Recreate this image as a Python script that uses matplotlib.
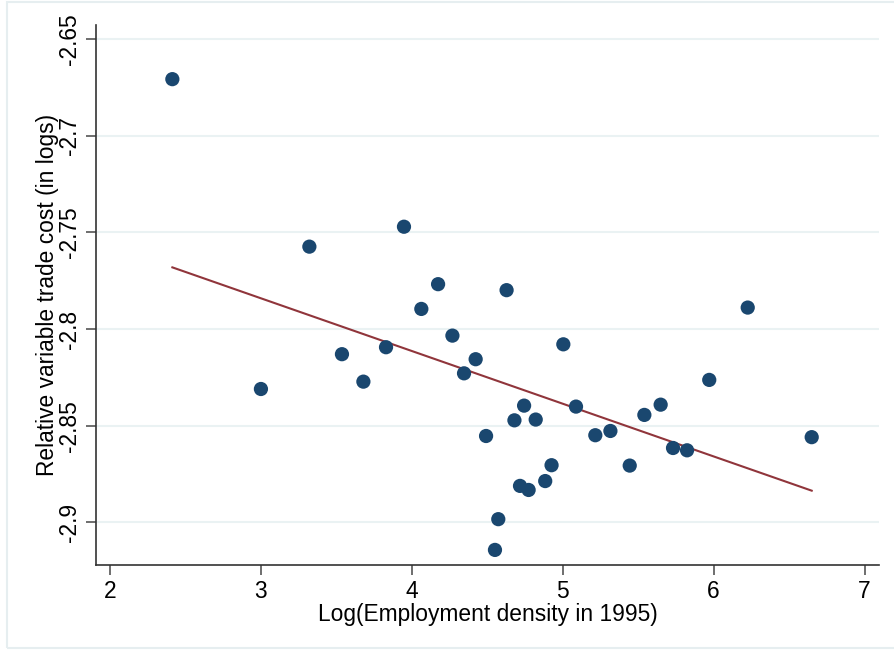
import numpy as np
import matplotlib
matplotlib.use("Agg")
import matplotlib.pyplot as plt
from matplotlib.patches import Rectangle

# Data
emp_density = [2.413, 3.000, 3.321, 3.537, 3.679, 3.829, 3.948, 4.063, 4.174,
               4.269, 4.346, 4.423, 4.492, 4.551, 4.573, 4.628, 4.680, 4.717,
               4.744, 4.774, 4.821, 4.884, 4.926, 5.004, 5.088, 5.216, 5.316,
               5.444, 5.541, 5.649, 5.731, 5.824, 5.971, 6.226, 6.650]
trade_cost = [-2.6708, -2.8310, -2.7574, -2.8130, -2.8272, -2.8094, -2.7471,
              -2.7896, -2.7768, -2.8034, -2.8229, -2.8156, -2.8553, -2.9142,
              -2.8983, -2.7799, -2.8472, -2.8811, -2.8396, -2.8832, -2.8468,
              -2.8786, -2.8704, -2.8079, -2.8401, -2.8549, -2.8527, -2.8706,
              -2.8444, -2.8391, -2.8615, -2.8627, -2.8263, -2.7889, -2.8559]
x_ticks = [2, 3, 4, 5, 6, 7]
y_ticks = [-2.9, -2.85, -2.8, -2.75, -2.7, -2.65]
y_tick_labels = ["-2.9", "-2.85", "-2.8", "-2.75", "-2.7", "-2.65"]

plt.rcParams['font.family'] = ['Liberation Sans', 'DejaVu Sans']
FS = 16.4

W, H = 895, 653
fig = plt.figure(figsize=(W / 100, H / 100), dpi=100)
fig.patch.set_facecolor('white')

# outer frame
fig.patches.append(Rectangle((7 / W, (H - 648) / H), (W + 5 - 7) / W, (648 - 2) / H,
                             transform=fig.transFigure, fill=False,
                             edgecolor='#e6eef0', linewidth=1.5))

left, right, top, bottom = 96, 879, 25, 565
ax = fig.add_axes([left / W, (H - bottom) / H, (right - left) / W, (bottom - top) / H])

x = np.array(emp_density)
y = np.array(trade_cost)
slope, intercept = np.polyfit(x, y, 1)
xf = np.array([x.min(), x.max()])

ax.scatter(x, y, s=105, color='#1a476f', edgecolors='none', zorder=3)
ax.plot(xf, intercept + slope * xf, color='#90353b', linewidth=1.5, zorder=2)

ax.set_xlim(1.907, 7.096)
ax.set_ylim(-2.922, -2.6428)
ax.set_xticks(x_ticks)
ax.set_xticklabels([str(t) for t in x_ticks], fontsize=FS)
ax.set_yticks(y_ticks)
ax.set_yticklabels(y_tick_labels, fontsize=FS, rotation=90, va='center')
ax.grid(axis='y', color='#eaf2f3', linewidth=1.5)
ax.set_axisbelow(True)

for s in ['top', 'right']:
    ax.spines[s].set_visible(False)
for s in ['left', 'bottom']:
    ax.spines[s].set_color('#333333')
    ax.spines[s].set_linewidth(1.2)
ax.tick_params(axis='both', color='#555555', length=7, width=1.2)
ax.tick_params(axis='y', pad=4)
ax.tick_params(axis='x', pad=4)

ax.set_xlabel("Log(Employment density in 1995)", fontsize=FS, labelpad=0)
ax.set_ylabel("Relative variable trade cost (in logs)", fontsize=FS, labelpad=-1)

fig.savefig("out.png", dpi=100, facecolor='white')
